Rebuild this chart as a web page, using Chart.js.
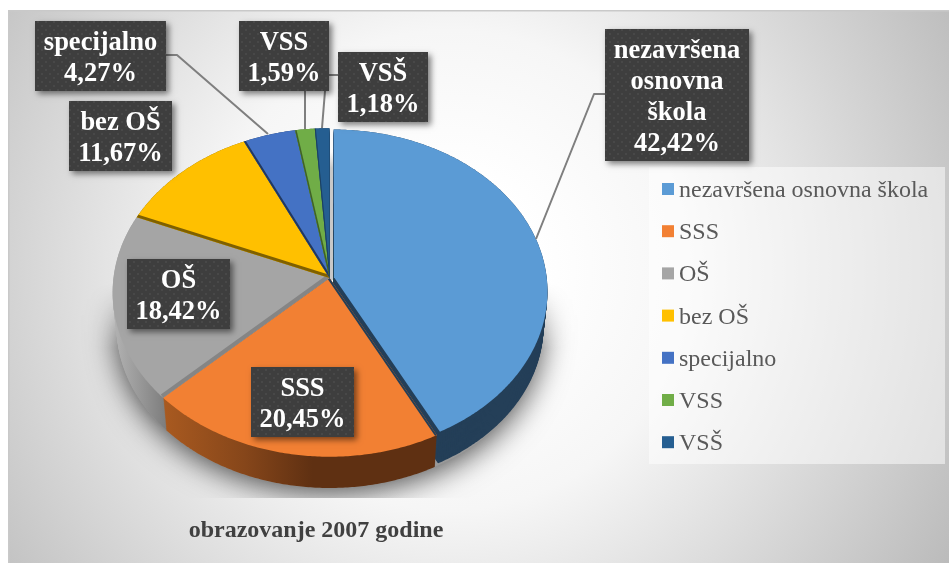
<!DOCTYPE html>
<html>
<head>
<meta charset="utf-8">
<style>html,body{margin:0;padding:0;background:#fff}canvas{display:block}</style>
<script src="https://cdn.jsdelivr.net/npm/chart.js@4/dist/chart.umd.min.js"></script>
</head>
<body>
<canvas id="c" width="949" height="563"></canvas>
<script>
const categories = ['nezavršena osnovna škola','SSS','OŠ','bez OŠ','specijalno','VSS','VSŠ'];
const shares = [42.42,20.45,18.42,11.67,4.27,1.59,1.18];
const sliceColors = ['#5b9bd5','#f28033','#a5a5a5','#ffc000','#4472c4','#70ad47','#255e91'];
const chartTitle = 'obrazovanje 2007 godine';

const SERIF = '"Liberation Serif"';
const PIE = {radius:216, tilt:163/216, persp:0.088, wallDrop:34.5, wallShrink:0.018, explode:4.6, explodedRadius:0.985};
const seams = [null,{c:'#243f58',w:2},{c:'#858585',w:4},{c:'#7f6000',w:3},{c:'#22395f',w:2},{c:'#3f6127',w:1.5},{c:'#1c3f5f',w:1}];
const wallColors = ['#243f58',null,null,'#7f6000','#22395f','#3f6127','#1c3f5f'];
const boxes = [
 {i:0,x:605,y:29,w:144,h:132,lines:['nezavršena','osnovna','škola']},
 {i:1,x:251,y:367,w:103,h:70},
 {i:2,x:127,y:259,w:103,h:70},
 {i:3,x:69,y:101,w:103,h:70},
 {i:4,x:35,y:21,w:131,h:70},
 {i:5,x:239,y:21,w:90,h:70},
 {i:6,x:338,y:52,w:90,h:70}
];
const leaders = [
 [[605,94],[594,94],[536,239]],
 [[166,55],[177,55],[268,134]],
 [[305,91],[305,129]],
 [[338,75],[325,75],[325,91],[322,128]]
];

function project(el, u, v, t){
  // u,v: disc coordinates in radii; t: 0 at the top face, 1 at the lower rim
  const w = 1 - PIE.persp*v;
  const s = 1 - PIE.wallShrink*t;
  return [el.x + el.outerRadius*s*u/w, el.y + t*PIE.wallDrop + el.outerRadius*PIE.tilt*s*v/w];
}
function slicePath(ctx, el, t){
  const p = el.getProps(['startAngle','endAngle'], true);
  const mid = (p.startAngle+p.endAngle)/2;
  const ex = el.options.offset ? PIE.explode/el.outerRadius : 0;
  const k = el.options.offset ? PIE.explodedRadius : 1;
  const ox = Math.cos(mid)*ex, oy = Math.sin(mid)*ex;
  ctx.beginPath();
  let q = project(el, ox, oy, t); ctx.moveTo(q[0],q[1]);
  const n = Math.max(4, Math.ceil((p.endAngle-p.startAngle)/0.01));
  for (let j=0;j<=n;j++){
    const a = p.startAngle + (p.endAngle-p.startAngle)*j/n;
    q = project(el, ox+k*Math.cos(a), oy+k*Math.sin(a), t);
    ctx.lineTo(q[0],q[1]);
  }
  ctx.closePath();
}
function drawBackground(ctx){
  ctx.save();
  const g = ctx.createRadialGradient(450,270,90,450,270,590);
  g.addColorStop(0,'#ffffff'); g.addColorStop(0.3,'#f6f6f6'); g.addColorStop(1,'#b9b9b9');
  ctx.fillStyle = g; ctx.fillRect(8,10,941,553);
  ctx.fillStyle = '#c9c9c9'; ctx.fillRect(8,10,941,1.5); ctx.fillRect(8,10,1.5,553);
  ctx.restore();
}
function drawFloorShadow(chart, el){
  const off = document.createElement('canvas'); off.width = 949; off.height = 563;
  const o = off.getContext('2d');
  o.shadowColor = 'rgba(0,0,0,0.7)'; o.shadowBlur = 30; o.shadowOffsetY = 5;
  o.fillStyle = '#999';
  o.beginPath();
  for (let j=0;j<=120;j++){
    const a = j/120*Math.PI*2;
    const q = project(el, Math.cos(a), Math.sin(a), 1);
    j ? o.lineTo(q[0],q[1]) : o.moveTo(q[0],q[1]);
  }
  o.closePath(); o.fill();
  o.shadowColor = 'transparent'; o.shadowBlur = 0; o.shadowOffsetY = 0;
  o.globalCompositeOperation = 'destination-in';
  const m = o.createLinearGradient(0,el.y+5,0,el.y+70);
  m.addColorStop(0,'rgba(0,0,0,0)'); m.addColorStop(1,'rgba(0,0,0,1)');
  o.fillStyle = m; o.fillRect(0,0,949,498);
  chart.ctx.drawImage(off,0,0);
}
function drawPie(chart){
  const ctx = chart.ctx, arcs = chart.getDatasetMeta(0).data;
  const el0 = arcs[0];
  drawFloorShadow(chart, el0);

  // narrow gap left by the pulled-out slice
  ctx.save();
  const gg = ctx.createLinearGradient(0,el0.y-150,0,el0.y-110);
  gg.addColorStop(0,'rgba(200,200,200,0)'); gg.addColorStop(0.6,'rgba(200,200,200,0)'); gg.addColorStop(1,'rgba(200,200,200,1)');
  ctx.fillStyle = gg; ctx.fillRect(el0.x-1, el0.y-150, 8, 152);
  ctx.restore();

  const orangeWall = ctx.createLinearGradient(163,0,435,0);
  orangeWall.addColorStop(0,'#a95a20'); orangeWall.addColorStop(0.3,'#86461a'); orangeWall.addColorStop(0.55,'#5f3012'); orangeWall.addColorStop(1,'#5f3012');
  const grayWall = ctx.createLinearGradient(112,0,168,0);
  grayWall.addColorStop(0,'#b4b4b4'); grayWall.addColorStop(0.5,'#989898'); grayWall.addColorStop(1,'#7b7b7b');
  const walls = [wallColors[0],orangeWall,grayWall,wallColors[3],wallColors[4],wallColors[5],wallColors[6]];
  for (const i of [4,5,6,3,0,2,1]){
    ctx.fillStyle = walls[i];
    for (let s=32;s>=0;s--){ slicePath(ctx, arcs[i], s/32); ctx.fill(); }
  }
  arcs.forEach(el=>{ ctx.fillStyle = el.options.backgroundColor; slicePath(ctx, el, 0); ctx.fill(); });
  arcs.forEach((el,i)=>{
    const s = seams[i]; if(!s) return;
    const a = el.getProps(['startAngle'], true).startAngle;
    const q = project(el, Math.cos(a), Math.sin(a), 0);
    ctx.save();
    slicePath(ctx, el, 0); ctx.clip();
    ctx.strokeStyle = s.c; ctx.lineWidth = s.w*2;
    ctx.beginPath(); ctx.moveTo(el.x,el.y); ctx.lineTo(q[0],q[1]); ctx.stroke();
    ctx.restore();
  });
}
function dotPattern(ctx){
  const c = document.createElement('canvas'); c.width = c.height = 8;
  const x = c.getContext('2d');
  x.fillStyle = '#3e3e3e'; x.fillRect(0,0,8,8);
  x.fillStyle = '#484848'; x.fillRect(1,1,2,2); x.fillRect(5,5,2,2);
  return ctx.createPattern(c,'repeat');
}
function drawLabels(chart){
  const ctx = chart.ctx;
  ctx.save();
  ctx.strokeStyle = '#7f7f7f'; ctx.lineWidth = 2; ctx.lineJoin = 'round';
  for (const l of leaders){
    ctx.beginPath(); l.forEach((p,k)=> k?ctx.lineTo(p[0],p[1]):ctx.moveTo(p[0],p[1])); ctx.stroke();
  }
  const pat = dotPattern(ctx);
  for (const b of boxes){
    ctx.save();
    ctx.shadowColor = 'rgba(0,0,0,0.5)'; ctx.shadowBlur = 6; ctx.shadowOffsetX = 3; ctx.shadowOffsetY = 3;
    ctx.fillStyle = '#3e3e3e'; ctx.fillRect(b.x,b.y,b.w,b.h);
    ctx.restore();
    ctx.fillStyle = pat; ctx.fillRect(b.x,b.y,b.w,b.h);
    const lines = (b.lines || [categories[b.i]]).concat(shares[b.i].toFixed(2).replace('.',',')+'%');
    ctx.fillStyle = '#fff'; ctx.font = 'bold 26.5px '+SERIF; ctx.textAlign = 'center'; ctx.textBaseline = 'alphabetic';
    lines.forEach((s,k)=> ctx.fillText(s, b.x+b.w/2, b.y+29+k*31));
  }
  ctx.restore();
}
function drawLegend(chart){
  const ctx = chart.ctx;
  ctx.save();
  ctx.fillStyle = 'rgba(255,255,255,0.5)'; ctx.fillRect(649,167,296,297);
  ctx.font = '24px '+SERIF; ctx.textAlign = 'left'; ctx.textBaseline = 'alphabetic';
  categories.forEach((s,i)=>{
    const y = 183 + i*42.2;
    ctx.fillStyle = sliceColors[i]; ctx.fillRect(662,y,12,12);
    ctx.fillStyle = '#595959'; ctx.fillText(s, 679, y+14);
  });
  ctx.fillStyle = '#404040'; ctx.font = 'bold 24px '+SERIF; ctx.textAlign = 'center';
  ctx.fillText(chartTitle, 316, 537);
  ctx.restore();
}
const pie3d = {
  id:'pie3d',
  beforeDraw(chart){ drawBackground(chart.ctx); },
  beforeDatasetsDraw(chart){ drawPie(chart); return false; },
  afterDraw(chart){ drawLegend(chart); drawLabels(chart); }
};
new Chart(document.getElementById('c'), {
  type:'pie',
  plugins:[pie3d],
  data:{labels:categories, datasets:[{data:shares, backgroundColor:sliceColors, borderWidth:0, offset:[20,0,0,0,0,0,0]}]},
  options:{
    responsive:false, animation:false, radius:PIE.radius,
    layout:{padding:{left:113.5,right:403.5,top:62,bottom:69}},
    plugins:{legend:{display:false}, title:{display:false}, tooltip:{enabled:false}}
  }
});
</script>
</body>
</html>
